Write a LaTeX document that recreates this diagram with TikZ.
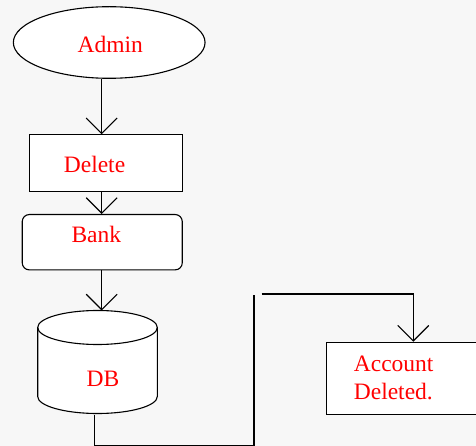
\documentclass[tikz,border=0pt]{standalone}
\usepackage{fontspec}
\setmainfont{Liberation Serif}
\usetikzlibrary{shapes.geometric,arrows.meta}
\definecolor{bg}{HTML}{F7F7F7}
\begin{document}
\begin{tikzpicture}[x=1pt,y=1pt,line width=1.1pt,
  shapebox/.style={draw=black,fill=white,inner sep=0pt},
  lbl/.style={text=red,font=\fontsize{23.5}{27.6}\selectfont,inner sep=0pt,anchor=base west},
  flow/.style={-{Straight Barb[length=15.5pt,width=31pt]}}]
\useasboundingbox[fill=bg] (0,0) rectangle (476,-446);

% helper columns for the connectors
\coordinate (spine) at (101.7,0);
\coordinate (drop) at (413.3,0);

% shapes
\node[shapebox,ellipse,minimum width=191.7pt,minimum height=71.6pt] (admin) at (109.2,-42.5) {};
\node[shapebox,minimum width=152.4pt,minimum height=56.4pt,anchor=north west] (delete) at (29.3,-134.3) {};
\node[shapebox,rounded corners=7pt,minimum width=160pt,minimum height=55.3pt,anchor=north west] (bank) at (21.7,-214) {};
\node[inner sep=0pt,minimum width=119.6pt,minimum height=103pt,anchor=north west] (db) at (37.7,-310.5) {};
\draw[fill=white] ([yshift=-17pt]db.north west) -- ++(0,-69) arc(180:360:59.8 and 17) -- ++(0,69) arc(0:180:59.8 and 17) -- cycle;
\draw ([yshift=-17pt]db.north west) arc(180:360:59.8 and 17);
\node[shapebox,minimum width=170pt,minimum height=72.3pt,anchor=north west] (account) at (325.7,-341.7) {};

% texts
\node[lbl] (adminT) at (77,-52.7) {Admin};
\node[lbl] (deleteT) at (63.3,-172.7) {Delete};
\node[lbl] (bankT) at (71,-242.7) {Bank};
\node[lbl] (dbT) at (86,-386.7) {DB};
\node[lbl] (accT1) at (353.3,-371.7) {Account};
\node[lbl] (accT2) at (353.3,-399.3) {Deleted.};

% connectors
\draw[flow] (admin.south -| spine) -- (delete.north -| spine);
\draw[flow] (delete.south -| spine) -- (bank.north -| spine);
\draw[flow] (bank.south -| spine) -- (db.north -| spine);
\coordinate (j1) at (254,-295);
\coordinate (j2) at (261.7,-294);
\draw ([xshift=-3.5pt]db.south) -- ++(0,-30.8) -| (j1);
\draw[flow] (j2) -| (account.north -| drop);
\end{tikzpicture}
\end{document}
